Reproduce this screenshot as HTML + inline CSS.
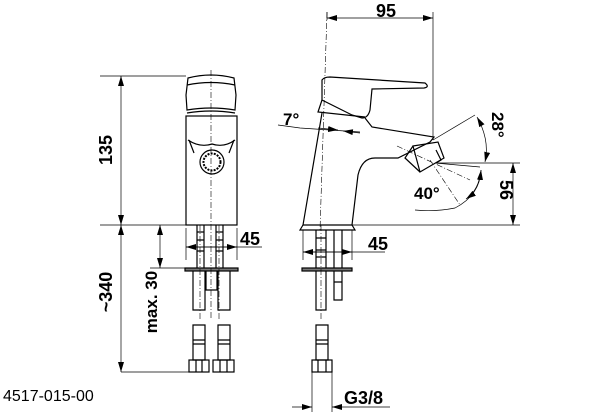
<!DOCTYPE html>
<html><head><meta charset="utf-8"><style>
html,body{margin:0;padding:0;background:#fff;}
svg{display:block;}
text{font-family:"Liberation Sans",sans-serif;font-weight:bold;fill:#000;}
</style></head><body>
<svg width="614" height="415" viewBox="0 0 614 415" xmlns="http://www.w3.org/2000/svg">
<defs>
<marker id="a" viewBox="0 0 10 6" refX="10" refY="3" markerWidth="10" markerHeight="6" orient="auto-start-reverse" markerUnits="userSpaceOnUse"><path d="M0,0 L10,3 L0,6 z" fill="#000"/></marker>
</defs>
<g fill="none" stroke="#000" stroke-width="1.2">
<!-- FRONT VIEW -->
<path d="M188,78 Q211,72 234,78 L236,95 L235,110 Q211,106 187,110 L186,95 Z"/>
<path d="M187,85 Q211,80 235,85"/>
<path d="M187,113 Q211,109 235,113"/>
<rect x="186" y="116" width="51" height="109"/>
<path d="M188,140 Q200,148 212,144 Q224,148 235,140"/>
<path d="M189,140 L194,153 M234,140 L229,153"/>
<circle cx="212" cy="162" r="12"/>
<circle cx="212" cy="162" r="8.5" stroke-width="2" stroke-dasharray="2 1.2"/>
<!-- front lower pipes -->
<path d="M197,225 V270 M204,225 V270 M216,225 V270 M223,225 V270"/>
<path d="M197,232 h7 M216,232 h7 M197,240 h7 M216,240 h7 M197,251 h7 M216,251 h7"/>
<rect x="185" y="268" width="53" height="3" fill="#777"/>
<path d="M193,271 V310 H205 V271 M218,271 V310 H230 V271"/>
<path d="M206,271 V290 H217 V271"/>
<!-- front fittings -->
<path d="M193,325 h12 v35 h-12 z M218,325 h12 v35 h-12 z"/>
<path d="M193,340 h12 M218,340 h12 M193,344 h12 M218,344 h12"/>
<rect x="189" y="360" width="20" height="12"/><rect x="213" y="360" width="21" height="12"/>
<path d="M196,360 v12 M202,360 v12 M220,360 v12 M227,360 v12"/>

<!-- SIDE VIEW -->
<path d="M322,80 Q324,77 330,77 L425,83 Q430,87 424,88 L372,89 L370,110 Q368,118 362,118 L352,115 L322,100 Z"/>
<path d="M322,100 L318,112 L365,117"/>
<path d="M322,113 L303,225 L352,225 L358,175 Q362,158 375,158 L398,158 L430,142 L434,137 L372,127 L365,118"/>
<path d="M413,146 L438,142 L444,158 L420,172 Z" />
<path d="M413,146 L405,158 L420,172"/>
<path d="M436,150 L441,160 L436,163"/>
<path d="M303,225 L300,230 L355,230 L352,225"/>
<!-- side lower -->
<path d="M316,230 V310 H326 V230 M334,230 V290 M342,230 V290"/>
<path d="M334,290 V300 H342 V290"/>
<path d="M316,238 h10 M316,250 h10 M316,257 h10 M334,282 h8"/>
<rect x="302" y="268" width="50" height="3" fill="#777"/>
<path d="M316,325 h12 v35 h-12 z M316,340 h12 M316,344 h12"/>
<rect x="312" y="360" width="20" height="12"/>
<path d="M318,360 v12 M326,360 v12"/>
</g>
<!-- centerlines -->
<g fill="none" stroke="#000" stroke-width="0.6" stroke-dasharray="6 2 1 2">
<path d="M211,70 V320"/>
<path d="M327,12 L320,230"/>
<path d="M200,225 V320 M219,225 V320 M321,225 V320"/>
<path d="M397,146 L470,180 M430,160 L460,205"/>
</g>
<!-- dimension lines -->
<g fill="none" stroke="#000" stroke-width="0.7">
<path d="M100,76 H186 M100,225 H186 M121,372 H190 M150,268 H186"/>
<path d="M327,12 V20 M433,12 V140 M435,163 H520 M352,225 H520 M237,228 V260 M186,228 V260 M352,230 V260 M303,230 V260"/>
<path d="M312,372 V412 M332,372 V412"/>
<path d="M433,140 L475,115 M435,163 L480,167 M278,125 L300,128 L360,132"/>
<path d="M121,76 V225" marker-start="url(#a)" marker-end="url(#a)"/>
<path d="M121,225 V372" marker-start="url(#a)" marker-end="url(#a)"/>
<path d="M160,225 V268" marker-start="url(#a)" marker-end="url(#a)"/>
<path d="M327,18 H433" marker-start="url(#a)" marker-end="url(#a)"/>
<path d="M513,163 V225" marker-start="url(#a)" marker-end="url(#a)"/>
<path d="M186,247 H237 H262" marker-start="url(#a)"/>
<path d="M237,247 H186" marker-start="url(#a)"/>
<path d="M303,252 H352 H385" marker-start="url(#a)"/>
<path d="M352,252 H303" marker-start="url(#a)"/>
<path d="M292,407 H312" marker-end="url(#a)"/>
<path d="M390,407 H332" marker-end="url(#a)"/>
<path d="M477,117 Q490,140 485,162" marker-start="url(#a)" marker-end="url(#a)"/>
<path d="M481,170 Q480,195 455,208 Q435,212 415,210" />
<path d="M481,170 Q479,190 466,199" marker-start="url(#a)" marker-end="url(#a)"/>
<path d="M318,128 L338,130" marker-end="url(#a)"/>
<path d="M360,133 L343,131" marker-end="url(#a)"/>
</g>
<!-- labels -->
<text x="386" y="17" font-size="18" text-anchor="middle">95</text>
<text x="240" y="245" font-size="18">45</text>
<text x="368" y="250" font-size="18">45</text>
<text x="344" y="404" font-size="18">G3/8</text>
<text x="283" y="125" font-size="17">7°</text>
<text x="414" y="199" font-size="17">40°</text>
<text font-size="17" transform="translate(492,112) rotate(90)">28°</text>
<text font-size="18" transform="translate(500,180) rotate(90)">56</text>
<text font-size="18" transform="translate(112,150) rotate(-90)" text-anchor="middle">135</text>
<text font-size="18" transform="translate(112,292) rotate(-90)" text-anchor="middle">~340</text>
<text font-size="17" transform="translate(157,302) rotate(-90)" text-anchor="middle">max. 30</text>
<text x="3" y="401" font-size="16" style="font-weight:normal">4517-015-00</text>
</svg>
</body></html>
